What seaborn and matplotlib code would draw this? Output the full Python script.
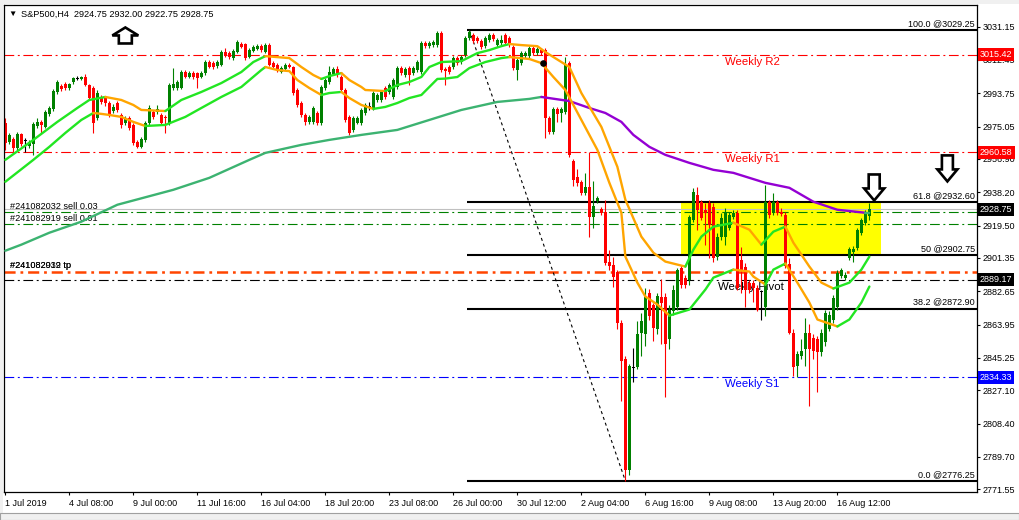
import numpy as np
import pandas as pd
import seaborn as sns
import matplotlib.pyplot as plt
import matplotlib.transforms as mtransforms
from matplotlib.patches import Polygon, Rectangle

# S&P500 H4 candles, 1 Jul - 16 Aug 2019
opens = [2977.1, 2966.5, 2968.2, 2963.1, 2971.0, 2967.0, 2964.2, 2965.4, 2975.4, 2977.7,
         2974.9, 2982.2, 2985.0, 2994.5, 2997.8, 2999.0, 2996.7, 3000.1, 3002.3, 3001.8,
         3002.9, 2998.4, 2996.7, 2979.9, 2991.7, 2991.1, 2988.3, 2983.8, 2988.3, 2981.6,
         2977.1, 2979.9, 2976.0, 2966.5, 2963.7, 2967.6, 2977.1, 2983.3, 2983.3, 2981.6,
         2980.5, 2977.1, 2996.7, 2996.7, 2996.7, 3005.7, 3002.9, 3005.1, 3005.1, 3002.9,
         3005.1, 3011.3, 3010.7, 3009.0, 3009.6, 3016.9, 3016.3, 3013.5, 3016.9, 3021.4,
         3021.4, 3014.1, 3017.4, 3018.6, 3020.2, 3016.9, 3020.8, 3010.7, 3009.6, 3005.7,
         3007.4, 3009.6, 3008.5, 2995.6, 2988.3, 2981.6, 2977.7, 2977.7, 2982.7, 2977.1,
         2996.7, 3000.1, 3004.6, 3007.4, 3002.9, 2995.6, 2980.5, 2973.2, 2977.1, 2977.1,
         2982.7, 2986.6, 2985.5, 2990.0, 2990.0, 2996.7, 2994.5, 2991.7, 2997.3, 3007.9,
         3004.0, 3007.9, 3005.1, 3006.8, 3005.7, 3021.9, 3020.2, 3020.8, 3020.8, 3027.5,
         3007.4, 3008.5, 3008.5, 3013.5, 3011.3, 3015.2, 3024.7, 3026.4, 3024.7, 3023.0,
         3020.2, 3023.6, 3026.4, 3020.8, 3021.9, 3026.4, 3024.7, 3019.7, 3006.8, 3010.7,
         3014.6, 3014.6, 3019.1, 3016.3, 3018.0, 3018.0, 2979.9, 2972.1, 2985.0, 2982.7,
         2983.3, 3010.7, 2955.8, 2946.9, 2944.1, 2937.9, 2941.3, 2924.5, 2933.4, 2929.0,
         2927.3, 2899.3, 2897.6, 2893.7, 2865.1, 2844.4, 2782.2, 2839.9, 2839.9, 2859.5,
         2858.4, 2881.9, 2875.2, 2861.2, 2879.7, 2879.7, 2855.6, 2871.3, 2874.1, 2895.9,
         2890.3, 2889.2, 2922.8, 2936.8, 2932.9, 2928.4, 2932.3, 2930.1, 2902.1, 2913.3,
         2913.3, 2918.3, 2924.5, 2926.7, 2900.4, 2896.5, 2887.5, 2887.5, 2884.7, 2882.5,
         2874.1, 2932.9, 2926.7, 2932.9, 2927.3, 2925.6, 2898.2, 2859.5, 2840.5, 2846.6,
         2850.0, 2859.5, 2856.7, 2855.6, 2848.3, 2853.9, 2861.2, 2866.8, 2874.1, 2891.4,
         2890.3, 2901.5, 2904.9, 2907.1, 2915.5, 2921.1, 2924.75]
highs = [2979.9, 2971.5, 2969.3, 2972.1, 2971.5, 2968.7, 2967.6, 2977.7, 2979.9, 2978.8,
         2984.4, 2986.6, 2996.2, 3001.2, 2999.0, 3000.1, 2999.5, 3002.9, 3003.4, 3003.4,
         3004.6, 2999.0, 2997.8, 2995.6, 2992.8, 2992.2, 2989.4, 2987.8, 2989.4, 2982.7,
         2981.0, 2981.0, 2977.1, 2967.6, 2969.3, 2978.2, 2987.2, 2984.4, 2987.2, 2982.7,
         2981.6, 2999.5, 3007.9, 3001.2, 3006.8, 3006.8, 3006.2, 3006.2, 3005.7, 3006.2,
         3012.4, 3012.4, 3011.8, 3012.4, 3018.0, 3019.1, 3017.4, 3018.6, 3023.6, 3022.5,
         3021.9, 3019.1, 3020.8, 3021.4, 3021.4, 3021.9, 3021.9, 3011.8, 3010.7, 3009.0,
         3010.7, 3010.7, 3009.0, 2996.7, 2989.4, 2982.7, 2981.6, 2986.6, 2983.8, 2998.4,
         3002.3, 3009.0, 3008.5, 3009.0, 3004.0, 2996.7, 2981.6, 2981.0, 2981.0, 2985.5,
         2988.3, 2988.9, 2995.0, 2993.9, 2995.6, 2997.8, 2999.5, 3002.3, 3009.0, 3009.0,
         3008.5, 3009.0, 3009.0, 3012.4, 3023.0, 3023.0, 3023.0, 3023.6, 3028.6, 3028.6,
         3008.5, 3009.6, 3014.6, 3014.6, 3015.2, 3025.8, 3029.25, 3027.5, 3025.8, 3024.2,
         3025.8, 3027.5, 3027.5, 3024.7, 3026.4, 3027.5, 3025.8, 3020.8, 3013.5, 3017.4,
         3017.4, 3020.2, 3020.2, 3019.7, 3019.1, 3019.1, 2981.0, 2986.1, 2986.1, 2986.1,
         3014.1, 3011.8, 2957.0, 2951.4, 2945.2, 2949.1, 2960.9, 2944.6, 2936.2, 2930.1,
         2934.0, 2906.0, 2902.1, 2894.8, 2866.8, 2846.6, 2841.6, 2850.6, 2865.7, 2870.7,
         2884.7, 2884.2, 2876.3, 2881.9, 2889.8, 2881.9, 2875.2, 2886.4, 2895.9, 2897.6,
         2892.0, 2925.6, 2940.7, 2941.3, 2934.0, 2932.3, 2934.0, 2932.3, 2915.5, 2926.7,
         2929.5, 2927.3, 2928.4, 2928.4, 2907.7, 2898.7, 2889.2, 2889.2, 2886.4, 2883.6,
         2942.4, 2934.0, 2937.9, 2934.0, 2929.5, 2927.3, 2901.5, 2861.2, 2848.9, 2855.6,
         2867.9, 2864.0, 2858.4, 2857.3, 2861.2, 2872.4, 2871.3, 2880.8, 2894.8, 2895.9,
         2893.7, 2907.7, 2908.2, 2918.3, 2923.9, 2928.4, 2932.00]
lows = [2962.0, 2965.4, 2960.3, 2962.0, 2964.2, 2960.9, 2963.1, 2959.2, 2974.3, 2971.5,
        2974.3, 2981.0, 2983.8, 2993.4, 2995.0, 2995.6, 2995.6, 2999.0, 3001.2, 3001.2,
        2997.8, 2990.0, 2971.5, 2978.8, 2987.8, 2986.6, 2980.5, 2982.7, 2983.3, 2974.3,
        2976.0, 2973.2, 2964.8, 2963.1, 2963.1, 2966.5, 2976.0, 2979.4, 2982.2, 2976.0,
        2971.5, 2976.0, 2995.6, 2995.6, 2996.2, 3002.3, 3002.3, 3001.8, 2996.7, 3002.3,
        3004.0, 3007.9, 3007.4, 3007.9, 3009.0, 3014.1, 3013.0, 3012.4, 3016.3, 3019.1,
        3012.4, 3013.5, 3016.9, 3018.0, 3016.9, 3016.3, 3009.0, 3007.4, 3005.7, 3005.1,
        3006.8, 3007.9, 2992.8, 2986.1, 2980.5, 2976.0, 2976.6, 2976.6, 2976.0, 2976.0,
        2995.6, 2999.0, 3004.0, 3002.9, 2994.5, 2977.7, 2970.4, 2972.1, 2976.6, 2976.0,
        2981.6, 2984.4, 2984.4, 2988.9, 2988.9, 2990.6, 2993.4, 2990.6, 2996.2, 3004.0,
        3002.9, 2998.4, 3004.0, 3005.7, 3004.6, 3019.1, 3019.1, 3019.7, 3019.7, 3005.7,
        2998.4, 3004.6, 3007.4, 3009.6, 3010.2, 3014.1, 3023.6, 3021.9, 3021.9, 3018.6,
        3019.1, 3022.5, 3023.0, 3019.7, 3020.8, 3020.8, 3019.7, 3006.8, 3001.2, 3009.6,
        3013.5, 3013.5, 3015.2, 3015.2, 3015.2, 2968.7, 2971.0, 2971.0, 2977.7, 2977.7,
        2982.2, 2958.1, 2941.8, 2941.8, 2936.8, 2936.8, 2913.3, 2918.3, 2932.3, 2925.6,
        2897.6, 2894.8, 2885.3, 2861.2, 2820.9, 2776.25, 2779.4, 2831.5, 2838.8, 2846.1,
        2851.7, 2866.8, 2854.5, 2858.4, 2852.8, 2823.1, 2850.0, 2869.6, 2872.4, 2884.7,
        2884.7, 2886.4, 2921.7, 2917.2, 2922.8, 2908.8, 2901.5, 2899.3, 2900.4, 2911.6,
        2908.8, 2917.2, 2923.4, 2883.6, 2881.9, 2874.1, 2881.9, 2876.9, 2871.3, 2866.8,
        2868.5, 2923.9, 2925.6, 2925.6, 2925.0, 2895.9, 2858.4, 2834.9, 2834.3, 2844.4,
        2840.5, 2818.1, 2844.4, 2825.9, 2846.6, 2852.2, 2860.1, 2865.1, 2872.4, 2890.3,
        2889.2, 2900.4, 2899.3, 2906.0, 2914.4, 2920.0, 2922.75]
closes = [2965.9, 2970.4, 2963.1, 2971.0, 2965.4, 2967.0, 2966.5, 2976.6, 2977.7, 2976.0,
          2983.3, 2985.5, 2995.0, 3000.1, 2996.2, 2996.7, 2999.0, 3002.3, 3002.3, 3002.9,
          2998.4, 2991.1, 2977.1, 2993.9, 2988.9, 2988.3, 2981.6, 2986.1, 2984.4, 2976.0,
          2979.9, 2974.3, 2965.9, 2963.7, 2968.2, 2977.1, 2985.5, 2980.5, 2985.0, 2977.1,
          2979.9, 2998.4, 2999.0, 3000.1, 3005.7, 3002.9, 3005.1, 3002.9, 3002.3, 3005.1,
          3011.3, 3008.5, 3008.5, 3011.3, 3016.9, 3014.6, 3014.1, 3017.4, 3022.5, 3019.7,
          3013.5, 3018.0, 3019.7, 3020.2, 3018.0, 3020.8, 3009.6, 3008.5, 3006.8, 3007.9,
          3009.6, 3008.5, 2993.9, 2987.2, 2981.6, 2977.7, 2980.5, 2985.5, 2977.1, 2997.3,
          3001.2, 3005.7, 3007.4, 3004.0, 2995.6, 2978.8, 2971.5, 2979.9, 2979.9, 2984.4,
          2987.2, 2986.6, 2993.9, 2992.8, 2994.5, 2991.7, 2998.4, 3001.2, 3007.9, 3005.1,
          3007.4, 3004.0, 3007.9, 3011.3, 3021.9, 3020.2, 3021.9, 3022.5, 3027.5, 3006.8,
          3006.2, 3005.7, 3013.5, 3010.7, 3014.1, 3024.7, 3028.1, 3023.0, 3023.0, 3019.7,
          3024.7, 3026.4, 3024.2, 3023.6, 3023.6, 3021.9, 3020.8, 3007.9, 3012.4, 3016.3,
          3016.3, 3019.1, 3016.3, 3018.6, 3016.3, 2979.9, 2972.1, 2985.0, 2982.2, 2985.0,
          3009.6, 2959.2, 2945.2, 2943.5, 2937.9, 2941.3, 2924.5, 2930.6, 2935.1, 2926.7,
          2898.7, 2897.0, 2890.9, 2865.1, 2843.3, 2782.2, 2840.5, 2839.9, 2858.4, 2865.7,
          2879.7, 2868.5, 2861.8, 2880.2, 2876.3, 2852.8, 2872.4, 2883.6, 2894.8, 2886.4,
          2886.4, 2924.5, 2938.5, 2928.4, 2923.9, 2926.7, 2920.0, 2901.5, 2913.3, 2923.9,
          2927.3, 2925.6, 2926.7, 2884.7, 2894.8, 2883.6, 2883.6, 2884.7, 2872.4, 2882.5,
          2932.9, 2925.6, 2932.9, 2926.7, 2926.2, 2897.0, 2859.5, 2839.9, 2847.2, 2848.9,
          2859.5, 2850.0, 2848.9, 2848.3, 2859.5, 2870.7, 2869.6, 2879.1, 2893.1, 2894.8,
          2892.0, 2906.6, 2906.6, 2917.2, 2922.8, 2927.3, 2928.75]

# channel indicator: lime while rising, orange while falling
upper_bars = [0, 7, 13, 18, 21, 25, 29, 32, 34, 40, 44, 49, 54, 59, 62, 65, 71, 74, 77, 79,
              81, 84, 86, 89, 90, 95, 98, 101, 104, 106, 109, 114, 118, 121, 124, 126, 129,
              133, 135, 139, 141, 144, 149, 153, 155, 159, 162, 165, 170, 172, 174, 177, 182,
              186, 189, 192, 195, 197, 201, 204, 207, 211, 214, 216]
upper_prices = [2956.4, 2967.6, 2977.7, 2985.5, 2990.0, 2991.7, 2990.0, 2987.2, 2984.4, 2983.8,
                2990.0, 2994.5, 2999.5, 3005.7, 3011.3, 3014.6, 3013.5, 3008.5, 3004.0, 3001.8,
                3003.4, 3005.1, 3001.2, 2997.3, 2995.6, 2995.0, 2998.4, 3000.1, 3002.9, 3008.5,
                3011.3, 3011.8, 3016.3, 3018.0, 3020.2, 3021.4, 3020.8, 3020.2, 3016.9, 3011.3,
                3008.5, 2993.9, 2974.9, 2952.5, 2934.0, 2913.3, 2904.3, 2899.3, 2896.5, 2906.0,
                2913.3, 2918.9, 2921.1, 2917.2, 2908.8, 2916.1, 2918.9, 2909.9, 2896.5, 2887.5,
                2884.2, 2887.5, 2894.8, 2902.1]
lower_bars = [0, 7, 11, 15, 19, 22, 24, 26, 29, 32, 35, 40, 45, 49, 54, 59, 64, 65, 68, 71,
              73, 76, 79, 81, 84, 86, 89, 92, 95, 98, 101, 104, 106, 108, 110, 113, 116, 120,
              124, 126, 131, 134, 137, 140, 144, 148, 151, 154, 155, 158, 160, 163, 166, 171,
              175, 177, 182, 186, 187, 190, 192, 195, 198, 201, 203, 208, 211, 214, 216]
lower_prices = [2944.1, 2956.4, 2963.7, 2971.5, 2978.8, 2982.7, 2982.2, 2981.6, 2980.5, 2977.7,
                2975.4, 2976.0, 2980.5, 2985.5, 2991.7, 2997.3, 3006.8, 3008.5, 3006.8, 3006.2,
                3001.2, 2996.7, 2992.8, 2993.9, 2994.5, 2991.1, 2987.2, 2985.0, 2986.1, 2988.3,
                2991.1, 2992.8, 2997.3, 3001.8, 3002.0, 3002.9, 3007.9, 3011.3, 3013.5, 3014.1,
                3013.0, 3010.7, 3002.9, 2995.6, 2978.8, 2962.0, 2943.5, 2926.7, 2902.1, 2887.5,
                2879.7, 2875.2, 2869.0, 2872.4, 2883.6, 2890.3, 2894.8, 2893.7, 2890.9, 2886.4,
                2894.8, 2898.2, 2887.5, 2876.3, 2866.8, 2862.9, 2866.8, 2876.3, 2885.3]
# slow moving average: sea green while rising, purple while falling
ma_bars = [0, 4, 11, 19, 28, 42, 51, 61, 65, 74, 81, 89, 98, 106, 114, 123, 131, 134, 141,
           146, 150, 154, 157, 161, 165, 171, 177, 182, 190, 196, 202, 208, 215, 216]
ma_prices = [2905.4, 2908.8, 2915.5, 2921.7, 2931.2, 2939.6, 2946.3, 2956.4, 2960.3, 2964.8,
             2967.6, 2970.4, 2973.2, 2978.8, 2984.4, 2988.9, 2990.6, 2991.7, 2989.4, 2985.5,
             2982.7, 2977.7, 2970.4, 2963.7, 2959.2, 2954.7, 2950.8, 2949.1, 2943.5, 2940.7,
             2932.9, 2928.4, 2926.7, 2926.7]

time_tick_bars = [0, 16, 32, 48, 64, 80, 96, 112, 128, 144, 160, 176, 192, 208]
time_tick_labels = ["1 Jul 2019", "4 Jul 08:00", "9 Jul 00:00", "11 Jul 16:00", "16 Jul 04:00",
                    "18 Jul 20:00", "23 Jul 08:00", "26 Jul 00:00", "30 Jul 12:00", "2 Aug 04:00",
                    "6 Aug 16:00", "9 Aug 08:00", "13 Aug 20:00", "16 Aug 12:00"]
price_ticks = [3031.15, 3012.45, 2993.75, 2975.05, 2956.90, 2938.20, 2919.50, 2901.35,
               2882.65, 2863.95, 2845.25, 2827.10, 2808.40, 2789.70, 2771.55]

weekly_names = ["Weekly R2", "Weekly R1", "Weekly Pivot", "Weekly S1"]
weekly_prices = [3015.42, 2960.58, 2889.17, 2834.33]
weekly_colors = ["#FF0000", "#FF0000", "#000000", "#0000FF"]
weekly_label_bars = [180, 180, 178.2, 180]

order_names = ["#241082032 sell 0.03", "#241082919 sell 0.01"]
order_prices = [2927.0, 2920.2]
tp_names = ["#241082919 tp", "#241082032 tp"]
tp_price = 2893.6
bid_price = 2928.75

fib_names = ["100.0", "61.8", "50", "38.2", "0.0"]
fib_prices = [3029.25, 2932.60, 2902.75, 2872.90, 2776.25]
fib_start_bar = 116
swing_bars = [116, 155]
swing_prices = [3029.25, 2776.25]

zone_bars = [168.9, 218.9]
zone_prices = [2902.75, 2932.60]

arrow_bars = [30, 217.2, 235.5]
arrow_prices = [3026.2, 2940.9, 2951.6]
arrow_dirs = ["up", "down", "down"]

trade_bar, trade_price = 134.3, 3010.6

axis_tag_prices = [3015.42, 2960.58, 2928.75, 2889.17, 2834.33]
axis_tag_colors = ["#FF0000", "#FF0000", "#000000", "#000000", "#0000FF"]

header = "S&P500,H4  2924.75 2932.00 2922.75 2928.75"

BULL, BEAR = "#008000", "#FF0000"

sns.set_theme(style="white")
plt.rcParams["font.family"] = ["Liberation Sans", "DejaVu Sans"]
plt.rcParams["lines.scale_dashes"] = False

W, H = 1019, 520
fig = plt.figure(figsize=(W / 100, H / 100), dpi=100, facecolor="white")
ax = fig.add_axes([4 / W, 28 / H, 973 / W, 487 / H])
ax.set_facecolor("white")

dashdot = (0, (7, 2.6, 1.4, 2.6))

# background zone
ax.add_patch(Rectangle((zone_bars[0], zone_prices[0]), zone_bars[1] - zone_bars[0],
                       zone_prices[1] - zone_prices[0], facecolor="#FFFF00", edgecolor="none", zorder=0.5))

# level lines
for p, c in zip(weekly_prices, weekly_colors):
    ax.axhline(p, color=c, lw=0.8, ls=dashdot, zorder=1)
for p in order_prices:
    ax.axhline(p, color="#008000", lw=0.8, ls=dashdot, zorder=1)
ax.axhline(tp_price, color="#FF4500", lw=1.8, ls=(0, (8, 3.5, 2, 3.5)), zorder=1)
ax.axhline(bid_price, color="#C0C0C0", lw=0.8, zorder=1)
ax.hlines(fib_prices, fib_start_bar - 0.6, 245, color="black", lw=1.5, zorder=1.2)
ax.plot(swing_bars, swing_prices, color="black", lw=0.8, ls=(0, (2.2, 2.2)), zorder=1.2)

# texts on the chart
for name, p, c, b in zip(weekly_names, weekly_prices, weekly_colors, weekly_label_bars):
    ax.annotate(name, (b, p), xytext=(0, -2), textcoords="offset pixels", ha="left", va="top",
                color=c, fontsize=8.2, zorder=1.5)
for name, p in zip(order_names, order_prices):
    ax.annotate(name, (1.2, p), xytext=(0, 1), textcoords="offset pixels", ha="left",
                va="bottom", color="black", fontsize=6.6, zorder=1.5)
for name in tp_names:
    ax.annotate(name, (1.2, tp_price), xytext=(0, 2), textcoords="offset pixels", ha="left",
                va="bottom", color="black", fontsize=6.6, zorder=1.5)
for name, p in zip(fib_names, fib_prices):
    ax.annotate(f"{name} @{p:.2f}", (242.4, p), xytext=(0, 2), textcoords="offset pixels",
                ha="right", va="bottom", color="black", fontsize=6.5, zorder=1.5)

# candles
df = pd.DataFrame({"open": opens, "high": highs, "low": lows, "close": closes})
df["bar"] = np.arange(len(df))
colors = np.where(df.close > df.open, BULL, np.where(df.close < df.open, BEAR, "black"))
ax.vlines(df.bar, df.low, df.high, colors=colors, lw=0.8, zorder=2)
body_h = np.maximum((df.close - df.open).abs(), 0.6)
body_lo = np.minimum(df.open, df.close) - np.where(df.close == df.open, 0.3, 0)
ax.bar(df.bar, body_h, bottom=body_lo, width=0.78, color=colors, linewidth=0, zorder=2.1)


def trend_line(bars, prices, rise_color, fall_color, width):
    bars = np.asarray(bars, float)
    prices = np.asarray(prices, float)
    rising = np.diff(prices) >= 0
    start = 0
    for k in range(1, len(rising) + 1):
        if k == len(rising) or rising[k] != rising[start]:
            seg = pd.DataFrame({"bar": bars[start:k + 1], "price": prices[start:k + 1]})
            sns.lineplot(data=seg, x="bar", y="price", ax=ax, estimator=None, sort=False,
                         color=rise_color if rising[start] else fall_color,
                         linewidth=width, zorder=3)
            start = k


trend_line(ma_bars, ma_prices, "#3CB371", "#9400D3", 1.7)
trend_line(upper_bars, upper_prices, "#22E622", "#FFA500", 1.7)
trend_line(lower_bars, lower_prices, "#22E622", "#FFA500", 1.7)

ax.scatter([trade_bar], [trade_price], s=14, color="black", zorder=3.5)

# hollow arrows (pixel shapes anchored at data points)
up_shape = [(0, 8), (13, 0), (6.5, 0), (6.5, -8), (-6.5, -8), (-6.5, 0), (-13, 0)]
down_shape = [(-5.5, 13), (5.5, 13), (5.5, -1), (10, -1), (0, -13), (-10, -1), (-5.5, -1)]
for b, p, d in zip(arrow_bars, arrow_prices, arrow_dirs):
    tr = mtransforms.ScaledTranslation(b, p, ax.transData)
    shape = up_shape if d == "up" else down_shape
    ax.add_patch(Polygon(shape, closed=True, facecolor="white", edgecolor="black", lw=1.9,
                         transform=mtransforms.IdentityTransform() + tr, zorder=4, clip_on=False))

ax.set_xlim(-0.33, 242.9)
ax.set_ylim(2770.0, 3043.3)
ax.set_xlabel("")
ax.set_ylabel("")

ax.yaxis.tick_right()
ax.set_yticks(price_ticks)
ax.set_yticklabels([f"{p:.2f}" for p in price_ticks])
ax.set_xticks(time_tick_bars)
ax.set_xticklabels(time_tick_labels, ha="left")
ax.tick_params(axis="y", which="both", right=True, left=False, length=2.5, width=0.8,
               pad=1.5, labelsize=6.5, colors="black")
ax.tick_params(axis="x", which="both", bottom=True, length=2.5, width=0.8, pad=2.5,
               labelsize=6.5, colors="black")
for s in ax.spines.values():
    s.set_color("black")
    s.set_linewidth(0.9)

# price tags on the axis
blend = mtransforms.blended_transform_factory(ax.transAxes, ax.transData)
for p, c in zip(axis_tag_prices, axis_tag_colors):
    ax.text(1.0 + 3 / 973, p, f"{p:.2f}", transform=blend, ha="left", va="center",
            color="white", fontsize=6.5, clip_on=False, zorder=10,
            bbox=dict(boxstyle="square,pad=0.22", facecolor=c, edgecolor="none"))

# window chrome
fig.patches.append(Rectangle((0, 1 - 4 / H), 1, 4 / H, transform=fig.transFigure,
                             facecolor="#F0F0F0", edgecolor="none", zorder=-1))
fig.patches.append(Rectangle((0, 0), 3 / W, 1, transform=fig.transFigure,
                             facecolor="#F0F0F0", edgecolor="none", zorder=-1))
fig.patches.append(Rectangle((0, 0), 1, 7 / H, transform=fig.transFigure,
                             facecolor="#F0F0F0", edgecolor="#A0A0A0", lw=0.8, zorder=-1))
fig.text(8 / W, 1 - 14 / H, "▼", fontsize=6, va="center", ha="left", color="black")
fig.text(21 / W, 1 - 14 / H, header, fontsize=6.6, va="center", ha="left", color="black")

fig.savefig("out.png", dpi=100)
